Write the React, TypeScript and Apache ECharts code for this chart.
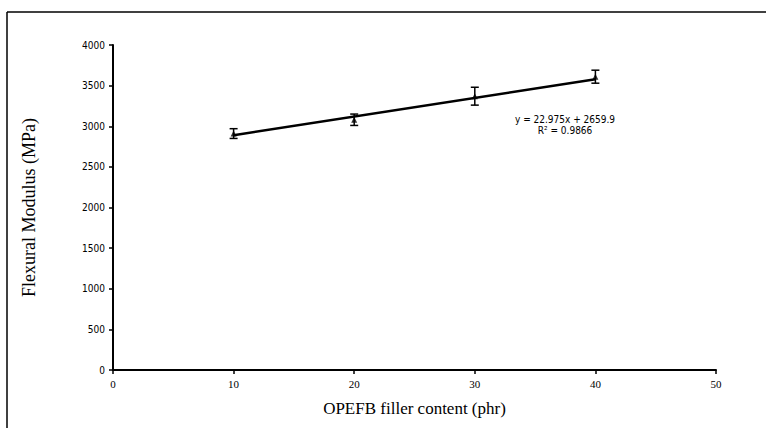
import React, { useEffect, useRef } from "react";
import * as echarts from "echarts";

const fillerContent = [10, 20, 30, 40];
const modulus = [2910, 3080, 3370, 3610];
const modulusError = [60, 70, 110, 80];
const trendSlope = 22.975;
const trendIntercept = 2659.9;
const trendRange = [10, 40];
const xTicks = [0, 10, 20, 30, 40, 50];
const yTicks = [0, 500, 1000, 1500, 2000, 2500, 3000, 3500, 4000];

export default function App() {
  const ref = useRef<HTMLDivElement>(null);
  useEffect(() => {
    if (!ref.current) return;
    const chart = echarts.init(ref.current, undefined, { renderer: "svg" });
    const pts = fillerContent.map((x, i) => [x, modulus[i]]);
    const errs = fillerContent.map((x, i) => [x, modulus[i] - modulusError[i], modulus[i] + modulusError[i]]);
    const trend = trendRange.map((x) => [x, trendIntercept + trendSlope * x]);
    chart.setOption({
      animation: false,
      backgroundColor: "#fff",
      grid: { left: 113, right: 50, top: 45, bottom: 58 },
      xAxis: {
        type: "value",
        min: xTicks[0],
        max: xTicks[xTicks.length - 1],
        interval: 10,
        splitLine: { show: false },
        axisLine: { lineStyle: { color: "#000", width: 2 } },
        axisTick: { show: true, length: 4, lineStyle: { color: "#000", width: 1.5 } },
        axisLabel: { color: "#000", fontFamily: "Liberation Serif", fontSize: 11, margin: 8, formatter: (v: number) => String(v) },
        name: "OPEFB filler content (phr)",
        nameLocation: "middle",
        nameGap: 30,
        nameTextStyle: { color: "#000", fontFamily: "Liberation Serif", fontSize: 17 },
      },
      yAxis: {
        type: "value",
        min: yTicks[0],
        max: yTicks[yTicks.length - 1],
        interval: 500,
        splitLine: { show: false },
        axisLine: { show: true, lineStyle: { color: "#000", width: 2 } },
        axisTick: { show: true, length: 4, lineStyle: { color: "#000", width: 1.5 } },
        axisLabel: { color: "#000", fontFamily: "DejaVu Sans Condensed", fontSize: 10, margin: 8, formatter: (v: number) => String(v) },
        name: "Flexural Modulus (MPa)",
        nameLocation: "middle",
        nameGap: 75,
        nameTextStyle: { color: "#000", fontFamily: "Liberation Serif", fontSize: 18 },
      },
      series: [
        {
          type: "line",
          data: trend,
          symbol: "none",
          lineStyle: { color: "#000", width: 2.5 },
          z: 2,
        },
        {
          type: "custom",
          data: errs,
          renderItem: (params: any, api: any) => {
            const x = api.value(0);
            const lo = api.coord([x, api.value(1)]);
            const hi = api.coord([x, api.value(2)]);
            const w = 4;
            const style = { stroke: "#000", lineWidth: 1.5 };
            return {
              type: "group",
              children: [
                { type: "line", shape: { x1: lo[0], y1: lo[1], x2: hi[0], y2: hi[1] }, style },
                { type: "line", shape: { x1: lo[0] - w, y1: lo[1], x2: lo[0] + w, y2: lo[1] }, style },
                { type: "line", shape: { x1: hi[0] - w, y1: hi[1], x2: hi[0] + w, y2: hi[1] }, style },
              ],
            };
          },
          z: 3,
        },
        {
          type: "scatter",
          data: pts,
          symbol: "triangle",
          symbolSize: 6,
          itemStyle: { color: "#000" },
          z: 4,
        },
      ],
      graphic: [
        { type: "line", shape: { x1: 7, y1: 12, x2: 766, y2: 12 }, style: { stroke: "#000", lineWidth: 1.5 } },
        { type: "line", shape: { x1: 7, y1: 12, x2: 7, y2: 428 }, style: { stroke: "#000", lineWidth: 1.5 } },
        {
          type: "text",
          x: 565,
          y: 119,
          style: {
            text: "y = 22.975x + 2659.9",
            fill: "#000",
            font: "10px 'DejaVu Sans Condensed'",
            textAlign: "center",
            textVerticalAlign: "middle",
          },
        },
        {
          type: "text",
          x: 565,
          y: 130,
          style: {
            text: "R² = 0.9866",
            fill: "#000",
            font: "10px 'DejaVu Sans Condensed'",
            textAlign: "center",
            textVerticalAlign: "middle",
          },
        },
      ],
    });
    return () => chart.dispose();
  }, []);
  return <div ref={ref} style={{ position: "fixed", left: 0, top: 0, width: 766, height: 428 }} />;
}
